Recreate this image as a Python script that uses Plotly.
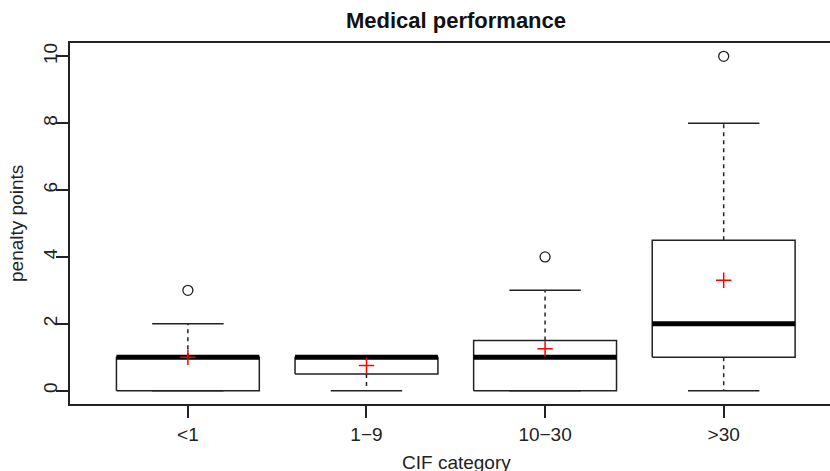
import plotly.graph_objects as go

categories = ["<1", "1\u22129", "10\u221230", ">30"]
lower_whisker = [0, 0, 0, 0]
q1 = [0, 0.5, 0, 1]
median = [1, 1, 1, 2]
q3 = [1, 1, 1.5, 4.5]
upper_whisker = [2, 1, 3, 8]
means = [1.0, 0.75, 1.25, 3.3]
outliers = [[3], [], [4], [10]]
y_ticks = [0, 2, 4, 6, 8, 10]

INK = "#222222"
FONT = "Liberation Sans, Arial, sans-serif"
BW = 0.4   # half box width
CW = 0.2   # half cap width

fig = go.Figure()
pos = list(range(1, len(categories) + 1))

for i, p in enumerate(pos):
    # box
    fig.add_trace(go.Scatter(
        x=[p - BW, p + BW, p + BW, p - BW, p - BW],
        y=[q1[i], q1[i], q3[i], q3[i], q1[i]],
        mode="lines", line=dict(color=INK, width=1.5), hoverinfo="skip"))
    # whiskers (dashed)
    fig.add_trace(go.Scatter(
        x=[p, p, None, p, p],
        y=[q3[i], upper_whisker[i], None, q1[i], lower_whisker[i]],
        mode="lines", line=dict(color=INK, width=1.5, dash="4px,4px"), hoverinfo="skip"))
    # caps
    fig.add_trace(go.Scatter(
        x=[p - CW, p + CW, None, p - CW, p + CW],
        y=[upper_whisker[i], upper_whisker[i], None, lower_whisker[i], lower_whisker[i]],
        mode="lines", line=dict(color=INK, width=1.5), hoverinfo="skip"))
    # median
    fig.add_trace(go.Scatter(
        x=[p - BW, p + BW], y=[median[i], median[i]],
        mode="lines", line=dict(color="black", width=5), hoverinfo="skip"))
    # outliers
    if outliers[i]:
        fig.add_trace(go.Scatter(
            x=[p] * len(outliers[i]), y=outliers[i], mode="markers",
            marker=dict(symbol="circle-open", size=10, color=INK, line=dict(width=1.3))))

# means
fig.add_trace(go.Scatter(
    x=pos, y=means, mode="markers",
    marker=dict(symbol="cross-thin", size=11, color="red", line=dict(width=1.5, color="red"))))

fig.update_layout(
    width=830, height=471,
    margin=dict(l=70, r=0, t=43, b=67, autoexpand=False),
    paper_bgcolor="white", plot_bgcolor="white",
    showlegend=False,
    font=dict(family=FONT, color=INK, size=19),
    title=dict(text="<b>Medical performance</b>", x=(456 / 830), xanchor="center",
               y=1 - 13 / 471, yanchor="top", yref="container", automargin=False,
               font=dict(size=22, color="#111111")),
)

fig.update_xaxes(
    range=[0.34, 0.34 + 760 / 178.6], tickmode="array", tickvals=pos, ticktext=categories,
    showgrid=False, zeroline=False, showline=True, linecolor=INK, linewidth=1.5, mirror=True,
    ticks="outside", ticklen=12, tickwidth=1.5, tickcolor=INK, automargin=False,
    tickfont=dict(size=19, color=INK))
fig.update_yaxes(
    range=[-0.4, 10.4], tickmode="array", tickvals=y_ticks,
    showgrid=False, zeroline=False, showline=True, linecolor=INK, linewidth=1.5,
    ticks="outside", ticklen=12, tickwidth=1.5, tickcolor=INK, tickangle=-90, automargin=False,
    ticklabelstandoff=-8,
    tickfont=dict(size=19, color=INK))

fig.add_annotation(text="CIF category", xref="paper", yref="paper",
                   x=(456 - 70) / 760, y=-(475 - 404) / 361, xanchor="center", yanchor="bottom",
                   showarrow=False, font=dict(size=19, color=INK))
fig.add_annotation(text="penalty points", xref="paper", yref="paper",
                   x=-(70 - 4) / 760, y=0.5, xanchor="left", yanchor="middle", textangle=-90,
                   showarrow=False, font=dict(size=19, color=INK))

fig.write_html("out.html", config={"displayModeBar": False},
               post_script="document.body.style.margin='0';document.body.style.overflow='hidden';")
